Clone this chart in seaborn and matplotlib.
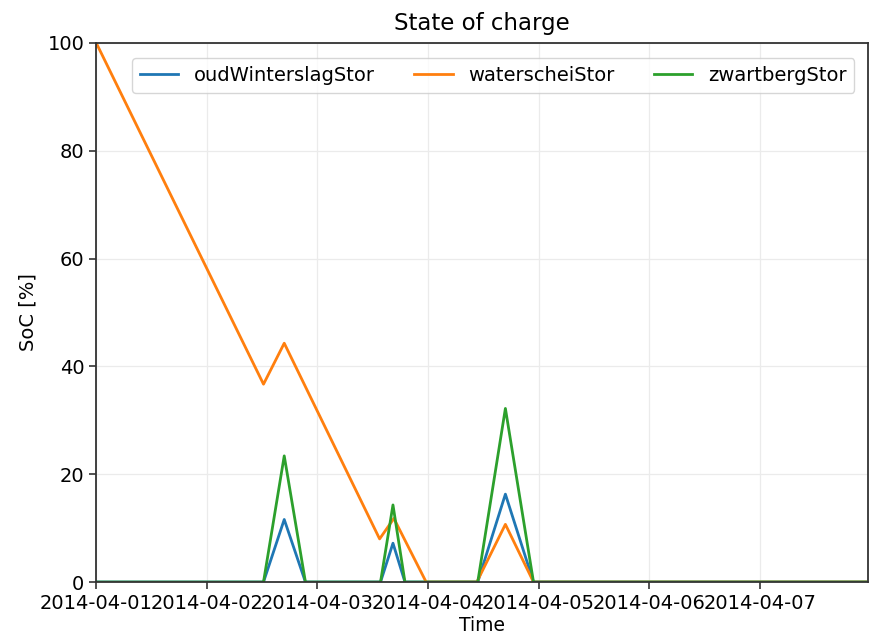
import pandas as pd
import seaborn as sns
import matplotlib.pyplot as plt
import matplotlib.dates as mdates

start = pd.Timestamp('2014-04-01')

# breakpoints (hours after start) and SoC values
oud_hours = [0, 36.3, 40.8, 45.4, 61.7, 64.4, 67.0, 82.8, 88.8, 94.9, 167]
oud_soc = [0, 0, 11.6, 0, 0, 7.2, 0, 0, 16.3, 0, 0]

water_hours = [0, 36.3, 40.8, 61.5, 64.6, 71.6, 82.6, 88.8, 94.9, 167]
water_soc = [100, 36.7, 44.3, 8.0, 11.8, 0, 0, 10.7, 0, 0]

zwart_hours = [0, 36.3, 40.8, 45.4, 61.7, 64.4, 67.0, 82.8, 88.8, 94.9, 167]
zwart_soc = [0, 0, 23.4, 0, 0, 14.3, 0, 0, 32.2, 0, 0]

series = [
    ('oudWinterslagStor', oud_hours, oud_soc),
    ('waterscheiStor', water_hours, water_soc),
    ('zwartbergStor', zwart_hours, zwart_soc),
]

frames = []
for name, hours, soc in series:
    frames.append(pd.DataFrame({
        'Time': start + pd.to_timedelta(hours, unit='h'),
        'SoC': soc,
        'storage': name,
    }))
df = pd.concat(frames, ignore_index=True)

plt.rcParams['font.family'] = ['DejaVu Sans']
plt.rcParams['font.size'] = 14

fig, ax = plt.subplots(figsize=(8.75, 6.41), dpi=100)
fig.subplots_adjust(left=0.11, right=0.992, top=0.933, bottom=0.092)

sns.lineplot(data=df, x='Time', y='SoC', hue='storage', ax=ax,
             palette=['#1f77b4', '#ff7f0e', '#2ca02c'], linewidth=2,
             estimator=None, sort=False)

ax.set_xlim(start, start + pd.Timedelta(hours=167.5))
ax.set_ylim(0, 100)
ax.xaxis.set_major_locator(mdates.DayLocator())
ax.xaxis.set_major_formatter(mdates.DateFormatter('%Y-%m-%d'))
ax.tick_params(labelsize=14, length=5, width=1.2, color='#333333')
ax.grid(True, color='#ebebeb', linewidth=0.9)
ax.set_axisbelow(True)
for s in ax.spines.values():
    s.set_color('#333333')
    s.set_linewidth(1.3)

ax.set_title('State of charge', fontsize=16.5, pad=9)
ax.set_xlabel('Time', fontsize=13.5, labelpad=2)
ax.set_ylabel('SoC [%]', fontsize=14, labelpad=7)
ax.legend(title=None, ncol=3, loc='upper right', fontsize=14,
          frameon=True, handlelength=2, columnspacing=2.0,
          bbox_to_anchor=(0.995, 0.99))

fig.savefig('out.png', dpi=100)
